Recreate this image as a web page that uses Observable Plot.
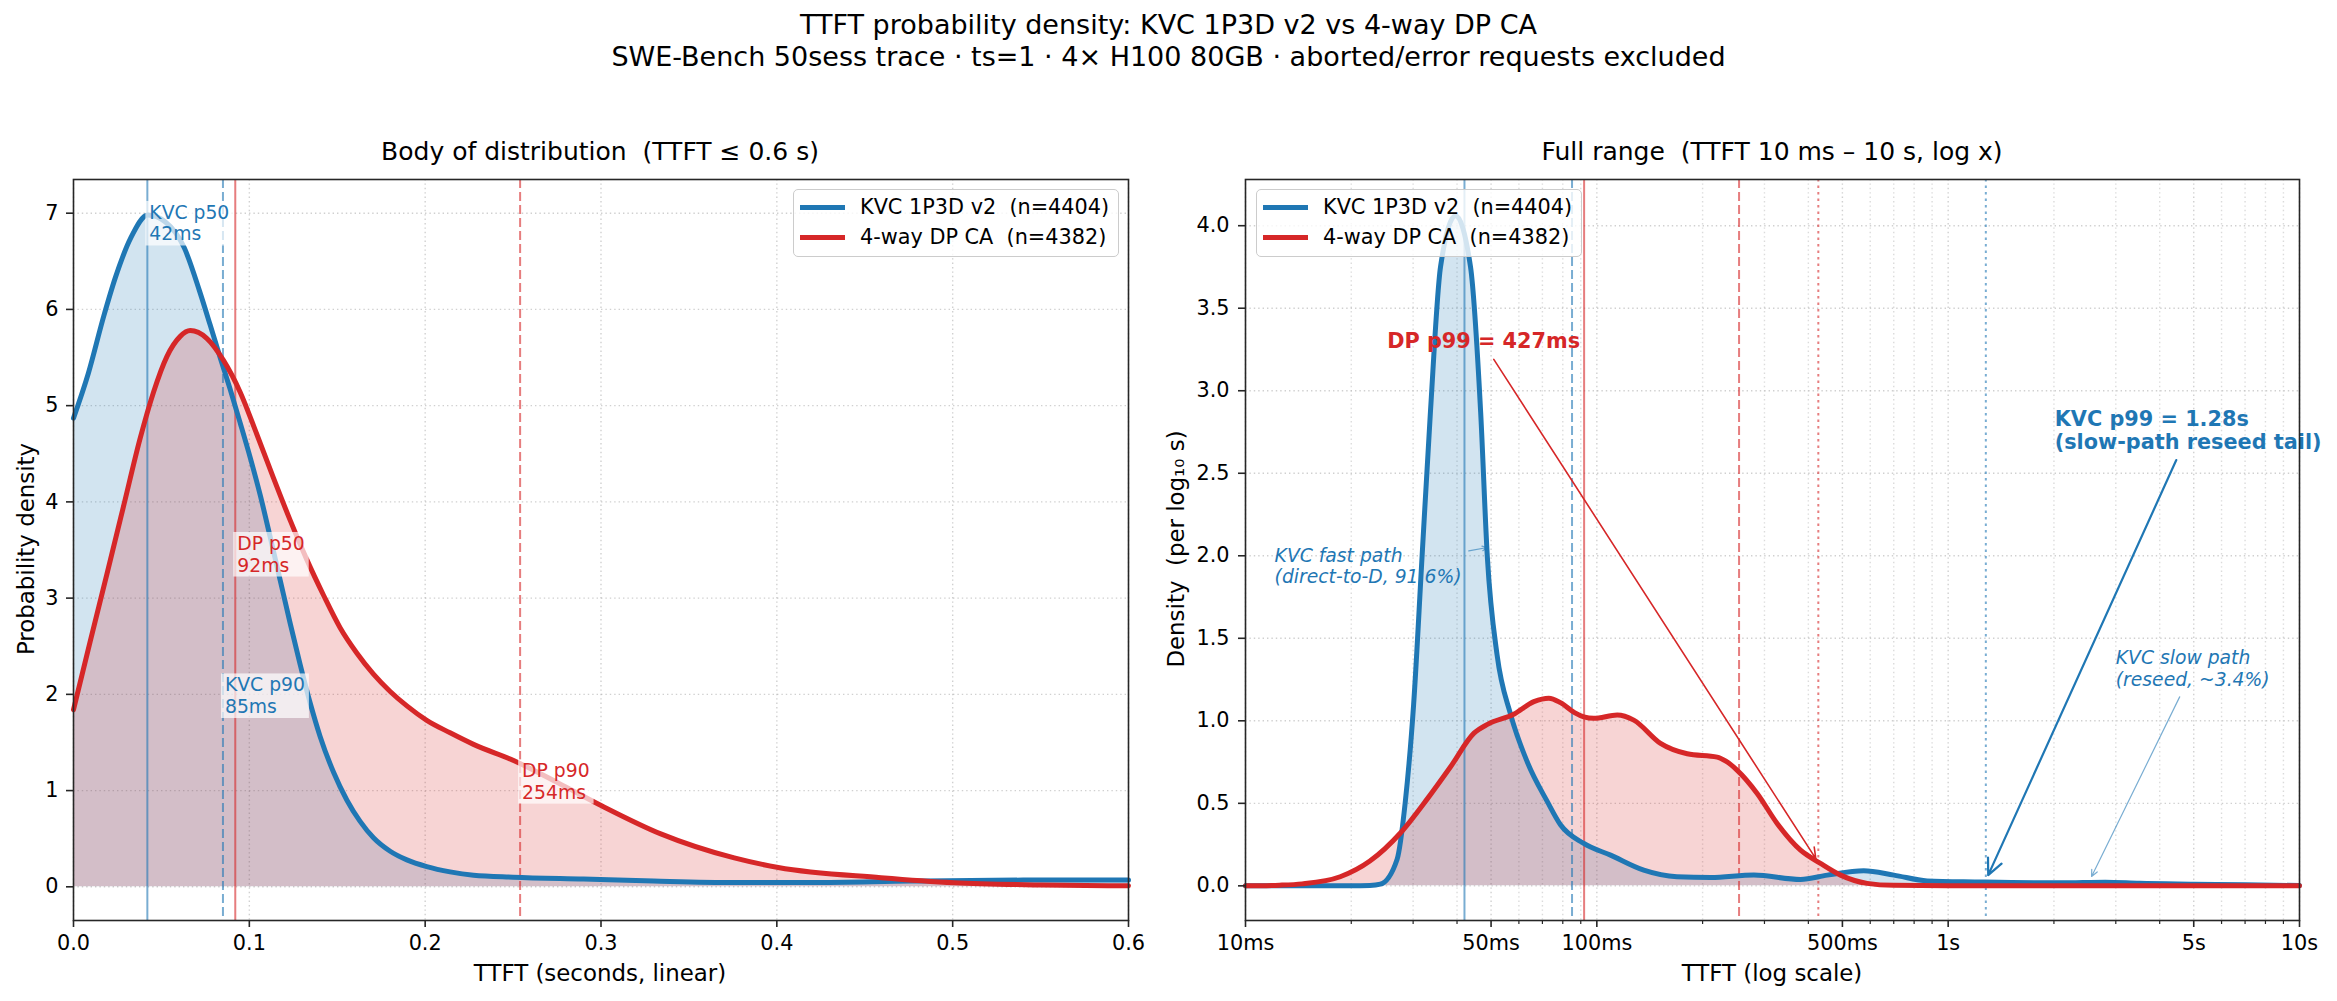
<!DOCTYPE html>
<html>
<head>
<meta charset="utf-8">
<script src="https://cdn.jsdelivr.net/npm/d3@7"></script>
<script src="https://cdn.jsdelivr.net/npm/@observablehq/plot@0.6"></script>
<style>
  body { margin: 0; background: #fff; font-family: "DejaVu Sans", sans-serif; }
  #root { position: relative; width: 2337px; height: 1001px; overflow: hidden; background: #fff; }
  .abs { position: absolute; white-space: nowrap; color: #000; }
  .plot { position: absolute; }
  .legend { position: absolute; box-sizing: border-box; border: 1.5px solid #cccccc; border-radius: 5px; background: rgba(255,255,255,0.8); }
  .legend .sw { position: absolute; height: 5px; }
  .legend .lt { position: absolute; font-size: 20.8px; line-height: 25px; white-space: nowrap; color: #000; }
</style>
</head>
<body>
<div id="root"></div>
<script>
// ---------------- data ----------------
const seriesNames = ["KVC 1P3D v2  (n=4404)", "4-way DP CA  (n=4382)"];

// Linear-scale densities: [TTFT seconds, density]
const kvcLinear = [
  [0, 4.87], [0.0085, 5.34], [0.0172, 5.93], [0.0238, 6.33], [0.0325, 6.74],
  [0.0423, 6.98], [0.0521, 6.91], [0.063, 6.64], [0.0717, 6.19], [0.0777, 5.84],
  [0.0834, 5.50], [0.0891, 5.17], [0.0948, 4.82], [0.1005, 4.46], [0.1062, 4.07],
  [0.1118, 3.64], [0.1175, 3.19], [0.1232, 2.74], [0.1289, 2.31], [0.1346, 1.91],
  [0.1403, 1.56], [0.1479, 1.19], [0.1555, 0.90], [0.163, 0.68], [0.1706, 0.51],
  [0.1801, 0.37], [0.1896, 0.28], [0.2009, 0.21], [0.2142, 0.155], [0.2275, 0.12],
  [0.25, 0.10], [0.29, 0.08], [0.33, 0.06], [0.376, 0.045], [0.42, 0.045],
  [0.476, 0.06], [0.54, 0.07], [0.6, 0.07]
];
const dpLinear = [
  [0, 1.84], [0.0095, 2.55], [0.019, 3.25], [0.0284, 3.95], [0.0379, 4.66],
  [0.0455, 5.14], [0.0531, 5.51], [0.0607, 5.72], [0.0664, 5.78], [0.0758, 5.70],
  [0.0853, 5.47], [0.0948, 5.14], [0.1043, 4.70], [0.1137, 4.25], [0.1232, 3.81],
  [0.1327, 3.40], [0.1422, 3.03], [0.1517, 2.69], [0.1611, 2.43], [0.1706, 2.21],
  [0.1801, 2.03], [0.1896, 1.88], [0.2009, 1.73], [0.2142, 1.60], [0.2275, 1.48],
  [0.2506, 1.31], [0.2756, 1.08], [0.3006, 0.84], [0.334, 0.55], [0.3758, 0.30],
  [0.4008, 0.20], [0.4592, 0.095], [0.501, 0.043], [0.55, 0.02], [0.6, 0.01]
];

// Log-scale densities (per log10 s): [TTFT seconds, density]
const kvcLog = [
  [0.01, 0], [0.02, 0], [0.0226, 0.002], [0.0242, 0.01], [0.027, 0.16],
  [0.0285, 0.51], [0.0301, 1.10], [0.0318, 1.99], [0.0336, 2.87], [0.0359, 3.75],
  [0.0396, 4.06], [0.0437, 3.75], [0.0467, 2.87], [0.0488, 1.99], [0.052, 1.40],
  [0.0568, 1.04], [0.0634, 0.75], [0.0723, 0.51], [0.0788, 0.37], [0.0918, 0.257],
  [0.1094, 0.186], [0.136, 0.095], [0.169, 0.055], [0.211, 0.05], [0.28, 0.065],
  [0.38, 0.039], [0.453, 0.065], [0.575, 0.091], [0.701, 0.065], [0.872, 0.03],
  [1.21, 0.024], [2.09, 0.018], [2.8, 0.022], [3.5, 0.015], [5.0, 0.01],
  [7.0, 0.006], [10, 0.002]
];
const dpLog = [
  [0.01, 0], [0.0125, 0.004], [0.0145, 0.012], [0.0186, 0.055], [0.0226, 0.15],
  [0.0276, 0.32], [0.033, 0.53], [0.0383, 0.72], [0.0447, 0.925], [0.049, 0.98],
  [0.058, 1.04], [0.0662, 1.116], [0.073, 1.137], [0.0788, 1.11], [0.0864, 1.05],
  [0.0918, 1.024], [0.098, 1.015], [0.1143, 1.035], [0.1274, 1.004], [0.1518, 0.863],
  [0.1808, 0.80], [0.220, 0.78], [0.233, 0.755], [0.251, 0.70], [0.286, 0.56],
  [0.326, 0.378], [0.380, 0.216], [0.433, 0.136], [0.494, 0.065], [0.588, 0.015],
  [0.70, 0.003], [1.0, 0.001], [10, 0]
];

// Percentiles (seconds)
const kvcPercentiles = [0.042, 0.085, 1.28];   // p50, p90, p99
const dpPercentiles  = [0.092, 0.254, 0.427];  // p50, p90, p99

// Percentile labels in the linear panel: [x, y, text]
const kvcLinearLabels = [[0.042, 6.90, "KVC p50\n42ms"], [0.085, 1.99, "KVC p90\n85ms"]];
const dpLinearLabels  = [[0.092, 3.46, "DP p50\n92ms"], [0.254, 1.10, "DP p90\n254ms"]];

// Annotations in the log panel: [x, y, text]
const dpNote      = [[0.0253, 3.30, "DP p99 = 427ms"]];
const kvcP99Note  = [[2.01, 2.76, "KVC p99 = 1.28s\n(slow-path reseed tail)"]];
const kvcItalic   = [[0.0121, 1.94, "KVC fast path\n(direct-to-D, 91.6%)"], [3.0, 1.32, "KVC slow path\n(reseed, ~3.4%)"]];
// Arrows: [x1, y1, x2, y2]
const dpArrow      = [[0.0509, 3.19, 0.42, 0.165]];
const kvcP99Arrow  = [[4.46, 2.58, 1.30, 0.065]];
const kvcFastArrow = [[0.0432, 2.03, 0.0488, 2.05]];
const kvcSlowArrow = [[4.56, 1.145, 2.56, 0.057]];

// Ticks
const linXTicks = [0, 0.1, 0.2, 0.3, 0.4, 0.5, 0.6];
const linYTicks = [0, 1, 2, 3, 4, 5, 6, 7];
const logXTicks = [0.01, 0.05, 0.1, 0.5, 1, 5, 10];
const logXTickLabels = ["10ms", "50ms", "100ms", "500ms", "1s", "5s", "10s"];
const logXMinor = [0.02, 0.03, 0.04, 0.06, 0.07, 0.08, 0.09, 0.2, 0.3, 0.4, 0.6, 0.7, 0.8, 0.9, 2, 3, 4, 6, 7, 8, 9];
const logYTicks = [0, 0.5, 1, 1.5, 2, 2.5, 3, 3.5, 4];

// ---------------- styles ----------------
const blue = "#1f77b4", red = "#d62728";
const gridStyle = {stroke: "#b0b0b0", strokeOpacity: 0.6, strokeWidth: 1.4, strokeDasharray: "1.4,3"};
const axisStyle = {stroke: "#262626", fill: "#000", strokeWidth: 1.6, fontSize: 20.8, label: null};
const plotStyle = {fontFamily: "DejaVu Sans", fontSize: "20.8px", background: "transparent", color: "#000", overflow: "visible"};
const X = d => d[0], Y = d => d[1];

const root = document.getElementById("root");
function addDiv(html, css, cls = "abs") {
  const el = document.createElement("div");
  el.className = cls;
  el.innerHTML = html;
  Object.assign(el.style, css);
  root.appendChild(el);
  return el;
}

// Titles
addDiv("TTFT probability density: KVC 1P3D v2 vs 4-way DP CA<br>SWE-Bench 50sess trace · ts=1 · 4× H100 80GB · aborted/error requests excluded",
  {left: "0px", width: "2337px", top: "9px", textAlign: "center", fontSize: "27px", lineHeight: "32px"});
addDiv("Body of distribution  (TTFT ≤ 0.6 s)", {left: "600px", top: "137px", transform: "translateX(-50%)", fontSize: "25px", lineHeight: "30px", whiteSpace: "pre"});
addDiv("Full range  (TTFT 10 ms – 10 s, log x)", {left: "1772px", top: "137px", transform: "translateX(-50%)", fontSize: "25px", lineHeight: "30px", whiteSpace: "pre"});

// ---------------- left: linear ----------------
const left = Plot.plot({
  width: 1168, height: 831,
  marginLeft: 73, marginRight: 40, marginTop: 9, marginBottom: 81,
  style: plotStyle,
  x: {domain: [0, 0.6]},
  y: {domain: [-0.35, 7.35]},
  marks: [
    Plot.gridX({ticks: linXTicks, ...gridStyle}),
    Plot.gridY({ticks: linYTicks, ...gridStyle}),
    Plot.areaY(kvcLinear, {x: X, y: Y, fill: blue, fillOpacity: 0.2, curve: "monotone-x"}),
    Plot.areaY(dpLinear, {x: X, y: Y, fill: red, fillOpacity: 0.2, curve: "monotone-x"}),
    Plot.ruleX([kvcPercentiles[0]], {stroke: blue, strokeOpacity: 0.6, strokeWidth: 2}),
    Plot.ruleX([kvcPercentiles[1]], {stroke: blue, strokeOpacity: 0.6, strokeWidth: 2, strokeDasharray: "9,4"}),
    Plot.ruleX([dpPercentiles[0]], {stroke: red, strokeOpacity: 0.6, strokeWidth: 2}),
    Plot.ruleX([dpPercentiles[1]], {stroke: red, strokeOpacity: 0.6, strokeWidth: 2, strokeDasharray: "9,4"}),
    Plot.lineY(kvcLinear, {x: X, y: Y, stroke: blue, strokeWidth: 5, curve: "monotone-x"}),
    Plot.lineY(dpLinear, {x: X, y: Y, stroke: red, strokeWidth: 5, curve: "monotone-x"}),
    Plot.text(kvcLinearLabels, {x: X, y: Y, text: d => d[2], fill: blue, textAnchor: "start", lineAnchor: "middle", dx: 2, fontSize: 18.75, lineHeight: 1.15}),
    Plot.text(dpLinearLabels, {x: X, y: Y, text: d => d[2], fill: red, textAnchor: "start", lineAnchor: "middle", dx: 2, fontSize: 18.75, lineHeight: 1.15}),
    Plot.axisX({ticks: linXTicks, tickFormat: d => d.toFixed(1), tickSize: 7, tickPadding: 8, ...axisStyle}),
    Plot.axisY({ticks: linYTicks, tickFormat: d => String(d), tickSize: 7, tickPadding: 8, ...axisStyle}),
    Plot.frame({stroke: "#262626", strokeWidth: 1.6})
  ]
});
left.classList.add("plot");
left.style.left = "0px"; left.style.top = "170px";
root.appendChild(left);

// ---------------- right: log ----------------
const logLabel = d => logXTickLabels[logXTicks.findIndex(t => Math.abs(t - d) < 1e-9)];
const right = Plot.plot({
  width: 1169, height: 831,
  marginLeft: 77, marginRight: 38, marginTop: 9, marginBottom: 81,
  style: plotStyle,
  x: {type: "log", domain: [0.01, 10]},
  y: {domain: [-0.21, 4.28]},
  marks: [
    Plot.gridX({ticks: logXMinor, ...gridStyle, strokeOpacity: 0.45}),
    Plot.gridX({ticks: logXTicks, ...gridStyle}),
    Plot.gridY({ticks: logYTicks, ...gridStyle}),
    Plot.areaY(kvcLog, {x: X, y: Y, fill: blue, fillOpacity: 0.2, curve: "monotone-x"}),
    Plot.areaY(dpLog, {x: X, y: Y, fill: red, fillOpacity: 0.2, curve: "monotone-x"}),
    Plot.ruleX([kvcPercentiles[0]], {stroke: blue, strokeOpacity: 0.6, strokeWidth: 2}),
    Plot.ruleX([kvcPercentiles[1]], {stroke: blue, strokeOpacity: 0.6, strokeWidth: 2, strokeDasharray: "9,4"}),
    Plot.ruleX([kvcPercentiles[2]], {stroke: blue, strokeOpacity: 0.6, strokeWidth: 2, strokeDasharray: "2.5,4"}),
    Plot.ruleX([dpPercentiles[0]], {stroke: red, strokeOpacity: 0.6, strokeWidth: 2}),
    Plot.ruleX([dpPercentiles[1]], {stroke: red, strokeOpacity: 0.6, strokeWidth: 2, strokeDasharray: "9,4"}),
    Plot.ruleX([dpPercentiles[2]], {stroke: red, strokeOpacity: 0.6, strokeWidth: 2, strokeDasharray: "2.5,4"}),
    Plot.lineY(kvcLog, {x: X, y: Y, stroke: blue, strokeWidth: 5, curve: "monotone-x"}),
    Plot.lineY(dpLog, {x: X, y: Y, stroke: red, strokeWidth: 5, curve: "monotone-x"}),
    Plot.arrow(dpArrow, {x1: d => d[0], y1: d => d[1], x2: d => d[2], y2: d => d[3], stroke: red, strokeWidth: 1.6, headLength: 11, headAngle: 50, inset: 0}),
    Plot.arrow(kvcP99Arrow, {x1: d => d[0], y1: d => d[1], x2: d => d[2], y2: d => d[3], stroke: blue, strokeWidth: 2.2, headLength: 12, headAngle: 50, inset: 0}),
    Plot.arrow(kvcFastArrow, {x1: d => d[0], y1: d => d[1], x2: d => d[2], y2: d => d[3], stroke: blue, strokeOpacity: 0.6, strokeWidth: 1.2, headLength: 7, headAngle: 50, inset: 0}),
    Plot.arrow(kvcSlowArrow, {x1: d => d[0], y1: d => d[1], x2: d => d[2], y2: d => d[3], stroke: blue, strokeOpacity: 0.6, strokeWidth: 1.2, headLength: 9, headAngle: 50, inset: 0}),
    Plot.text(dpNote, {x: X, y: Y, text: d => d[2], fill: red, fontWeight: "bold", fontSize: 20.8, textAnchor: "start", lineAnchor: "middle"}),
    Plot.text(kvcP99Note, {x: X, y: Y, text: d => d[2], fill: blue, fontWeight: "bold", fontSize: 20.8, textAnchor: "start", lineAnchor: "middle", lineHeight: 1.12}),
    Plot.text(kvcItalic, {x: X, y: Y, text: d => d[2], fill: blue, fontStyle: "italic", fontSize: 18.75, textAnchor: "start", lineAnchor: "middle", lineHeight: 1.15}),
    Plot.axisX({ticks: logXMinor, tickFormat: () => "", tickSize: 4, ...axisStyle, strokeWidth: 1.2}),
    Plot.axisX({ticks: logXTicks, tickFormat: () => "", tickSize: 7, ...axisStyle}),
    // major tick labels placed just below the frame through the x scale
    Plot.text(logXTicks, {x: d => d, text: logLabel, frameAnchor: "bottom", lineAnchor: "top", dy: 15, fontSize: 20.8, fill: "#000"}),
    Plot.axisY({ticks: logYTicks, tickFormat: d => d.toFixed(1), tickSize: 7, tickPadding: 9, ...axisStyle}),
    Plot.frame({stroke: "#262626", strokeWidth: 1.6})
  ]
});
right.classList.add("plot");
right.style.left = "1168px"; right.style.top = "170px";
root.appendChild(right);

// white translucent boxes behind percentile labels (left panel)
left.querySelectorAll("text").forEach(t => {
  if (!/p\d\d/.test(t.textContent)) return;
  const bb = t.getBBox();
  const r = document.createElementNS("http://www.w3.org/2000/svg", "rect");
  r.setAttribute("x", bb.x - 4); r.setAttribute("y", bb.y - 1);
  r.setAttribute("width", bb.width + 8); r.setAttribute("height", bb.height + 2);
  r.setAttribute("fill", "white"); r.setAttribute("fill-opacity", "0.7"); r.setAttribute("stroke", "none");
  const tr = t.getAttribute("transform"); if (tr) r.setAttribute("transform", tr);
  t.parentNode.insertBefore(r, t);
});

// Axis labels
addDiv("TTFT (seconds, linear)", {left: "600px", top: "960px", transform: "translateX(-50%)", fontSize: "22.9px", lineHeight: "27px"});
addDiv("TTFT (log scale)", {left: "1772px", top: "960px", transform: "translateX(-50%)", fontSize: "22.9px", lineHeight: "27px"});
addDiv("Probability density", {left: "26px", top: "549px", transform: "translate(-50%,-50%) rotate(-90deg)", fontSize: "22.9px", lineHeight: "27px"});
addDiv("Density  (per log₁₀ s)", {left: "1176px", top: "549px", transform: "translate(-50%,-50%) rotate(-90deg)", fontSize: "22.9px", lineHeight: "27px", whiteSpace: "pre"});

// Legends
function legend(x, y) {
  const lg = addDiv("", {left: x + "px", top: y + "px", width: "326px", height: "68px"}, "legend");
  [blue, red].forEach((c, i) => {
    const sw = document.createElement("div");
    sw.className = "sw";
    Object.assign(sw.style, {left: "6px", top: (15 + 30 * i) + "px", width: "45px", background: c});
    lg.appendChild(sw);
    const lt = document.createElement("div");
    lt.className = "lt";
    lt.style.left = "66px"; lt.style.top = (5 + 30 * i) + "px"; lt.style.whiteSpace = "pre";
    lt.textContent = seriesNames[i];
    lg.appendChild(lt);
  });
}
legend(793, 189);
legend(1256, 189);
</script>
</body>
</html>
